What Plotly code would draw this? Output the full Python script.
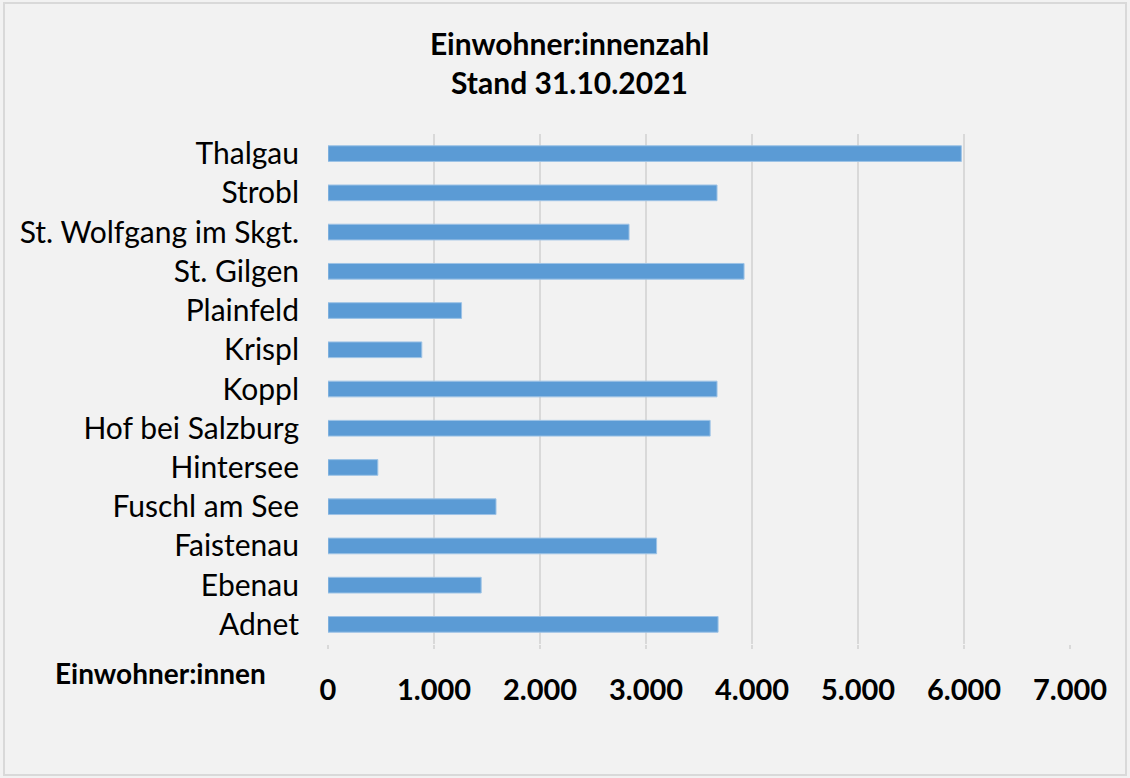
import plotly.graph_objects as go

gemeinden = ["Adnet", "Ebenau", "Faistenau", "Fuschl am See", "Hintersee",
             "Hof bei Salzburg", "Koppl", "Krispl", "Plainfeld", "St. Gilgen",
             "St. Wolfgang im Skgt.", "Strobl", "Thalgau"]
einwohner = [3680, 1445, 3100, 1585, 470, 3605, 3670, 885, 1260, 3925, 2840, 3670, 5975]
tick_vals = [0, 1000, 2000, 3000, 4000, 5000, 6000, 7000]
tick_text = ["0", "1.000", "2.000", "3.000", "4.000", "5.000", "6.000", "7.000"]

FONT = "Lato, Carlito, 'Open Sans', sans-serif"
PW, PH = 742, 510

fig = go.Figure(go.Bar(
    x=einwohner, y=gemeinden, orientation="h",
    marker=dict(color="#5B9BD5", line=dict(color="#9DC3E6", width=1)),
    width=0.4,
))

fig.update_layout(
    width=1130, height=778,
    paper_bgcolor="#F2F2F2", plot_bgcolor="#F2F2F2",
    margin=dict(l=328, r=60, t=134, b=134),
    showlegend=False,
    font=dict(family=FONT, color="#000000"),
    title=dict(
        text="<b>Einwohner:innenzahl</b><br><b>Stand 31.10.2021</b>",
        x=0.504, xanchor="center", y=0.929, yanchor="middle",
        font=dict(size=30, family=FONT, color="#000000"),
    ),
    xaxis=dict(
        range=[0, 7000], tickvals=tick_vals, ticktext=tick_text,
        showgrid=True, gridcolor="#D9D9D9", gridwidth=2,
        zeroline=False, showline=False,
        ticks="outside", ticklen=4, tickcolor="#D9D9D9", tickwidth=2,
        ticklabelstandoff=16,
        tickfont=dict(size=29, family=FONT, color="#000000", weight="bold"),
        fixedrange=True,
    ),
    yaxis=dict(
        categoryorder="array", categoryarray=gemeinden,
        showgrid=False, zeroline=False, showline=False, ticks="",
        ticklabelstandoff=28,
        tickfont=dict(size=30, family=FONT, color="#000000"),
        fixedrange=True,
    ),
    shapes=[dict(type="rect", xref="paper", yref="paper",
                 x0=-(328 - 4) / PW, x1=1 + (1126 - 1070) / PW,
                 y0=-(775 - 644) / PH, y1=1 + (134 - 3) / PH,
                 line=dict(color="#D9D9D9", width=2), fillcolor="rgba(0,0,0,0)",
                 layer="below")],
    annotations=[dict(
        text="<b>Einwohner:innen</b>", xref="paper", yref="paper",
        x=(160 - 328) / PW, y=-(673 - 644) / PH, xanchor="center", yanchor="middle",
        showarrow=False, font=dict(size=28, family=FONT, color="#000000"),
    )],
)

fig.write_html("out.html", config={"displayModeBar": False},
               post_script="document.body.style.margin='0';document.body.style.overflow='hidden';")
